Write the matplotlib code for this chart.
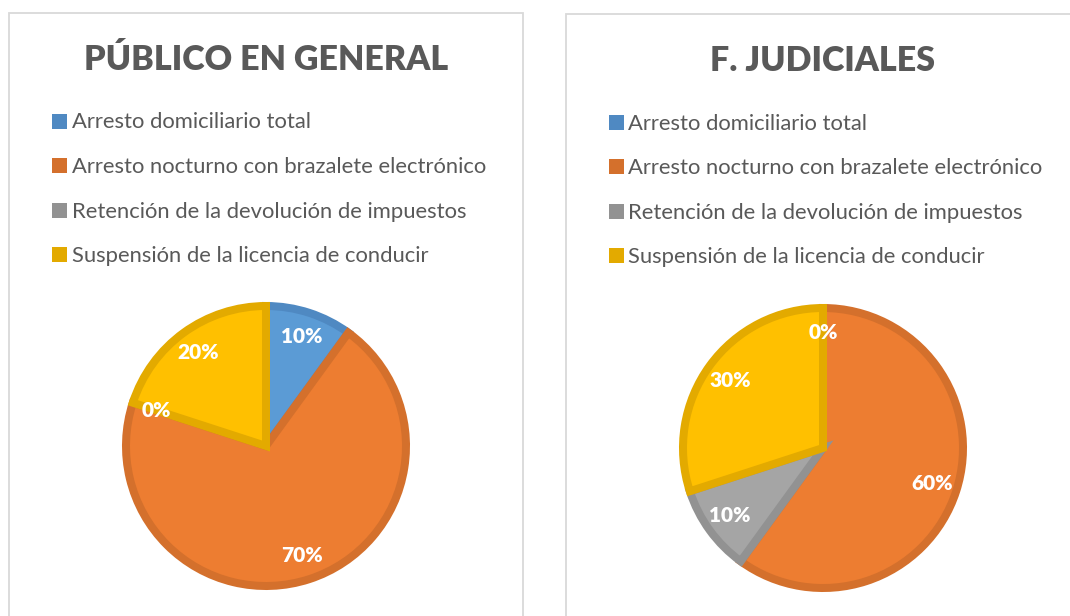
import numpy as np
import matplotlib.pyplot as plt
from matplotlib.patches import Rectangle

plt.rcParams['font.family'] = ['Lato', 'DejaVu Sans']

# ---- datos ----
categorias = ["Arresto domiciliario total",
              "Arresto nocturno con brazalete electrónico",
              "Retención de la devolución de impuestos",
              "Suspensión de la licencia de conducir"]
publico_general = [10, 70, 0, 20]
f_judiciales = [0, 60, 10, 30]
titulos = ["PÚBLICO EN GENERAL", "F. JUDICIALES"]

relleno = ["#5b9bd5", "#ed7d31", "#a5a5a5", "#ffc000"]
borde = ["#4f89c2", "#d4702c", "#929292", "#e3aa00"]
gris_txt = "#595959"

W, H = 1070, 616
fig = plt.figure(figsize=(W/100, H/100), dpi=100)

def fx(px):
    return px / W

def fy(py):
    return 1 - py / H

#------------------------------------------------
def Panel(x0, y0, valores, titulo, cx, cy, R):
    """ un grafico tipo Excel : marco, titulo, leyenda y torta
        x0,y0 = esquina sup. izq. del marco (px)
        cx,cy,R = centro y radio exterior de la torta (px)
    """
    ancho = 514
    fig.patches.append(Rectangle((fx(x0), fy(y0 + 700)), ancho/W, 700/H,
                                 transform=fig.transFigure, fill=False,
                                 ec="#d9d9d9", lw=1.3))
    xc = x0 + ancho/2
    fig.text(fx(xc), fy(y0 + 57), titulo, ha='center', va='baseline',
             fontsize=24.5, fontweight='heavy', color=gris_txt)

    # leyenda
    for k, cat in enumerate(categorias):
        base = y0 + 115.5 + k*44.6
        fig.patches.append(Rectangle((fx(x0 + 42.5), fy(base)), 15/W, 15/H,
                                     transform=fig.transFigure,
                                     fc=borde[k], ec='none'))
        fig.text(fx(x0 + 62.5), fy(base), cat, ha='left', va='baseline',
                 fontsize=15.8, color=gris_txt)

    # torta
    ax = fig.add_axes([fx(cx - R), fy(cy + R), 2*R/W, 2*R/H])
    lw_px = 8
    rad = 1 - (lw_px/2)/R
    wedges, txts, pcts = ax.pie(valores, colors=relleno, startangle=90,
                                counterclock=False, radius=rad,
                                autopct='%.0f%%', pctdistance=0.8/rad,
                                wedgeprops=dict(lw=lw_px*0.72, joinstyle='miter'),
                                textprops=dict(color='white', fontsize=15,
                                               fontweight='heavy'))
    for k, w in enumerate(wedges):
        w.set_edgecolor(borde[k])
        if valores[k] == 0:
            w.set_linewidth(0)
    for t in pcts:
        t.set_va('center')
    ax.set_xlim(-1, 1)
    ax.set_ylim(-1, 1)
    ax.set_aspect('equal')
    ax.axis('off')


Panel(9, 13, publico_general, titulos[0], 266, 446, 144)
Panel(566, 14, f_judiciales, titulos[1], 823, 448, 144)

fig.savefig("out.png", dpi=100)
